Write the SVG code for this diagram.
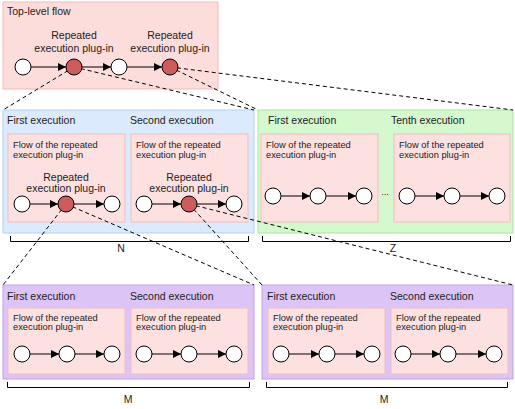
<svg xmlns="http://www.w3.org/2000/svg" width="515" height="409" viewBox="0 0 515 409">
<defs>
<marker id="ah" viewBox="0 0 10 10" refX="10" refY="5" markerWidth="8" markerHeight="8" markerUnits="userSpaceOnUse" orient="auto">
<path d="M0,0 L10,5 L0,10 z" fill="#000"/>
</marker>
<style>
text{font-family:"Liberation Sans",Arial,sans-serif;fill:#222}
.h{font-size:10.5px}
.s{font-size:9.3px}
.c{text-anchor:middle}
.top{fill:#fddcdc;stroke:#f7b9b9;stroke-width:1}
.blue{fill:#dbeafc;stroke:#b3d1f3;stroke-width:1}
.green{fill:#d5f8cf;stroke:#a8e69c;stroke-width:1}
.purple{fill:#dcc4f6;stroke:#c49fea;stroke-width:1}
.inner{fill:#fde0e0;stroke:#f6bcbc;stroke-width:1}
.w{fill:#fff;stroke:#000;stroke-width:1}
.r{fill:#cd5c5c;stroke:#000;stroke-width:1}
.a{stroke:#000;stroke-width:1;fill:none;marker-end:url(#ah)}
.d{stroke:#000;stroke-width:1;stroke-dasharray:4 3;fill:none}
.b{stroke:#000;stroke-width:1;fill:none}
</style>
</defs>
<rect width="515" height="409" fill="#fff"/>

<g id="top-level">
<rect class="top" x="3" y="2" width="215" height="87"/>
<text class="h" x="7" y="15">Top-level flow</text>
<text class="h c" x="74" y="39">Repeated</text>
<text class="h c" x="74" y="52">execution plug-in</text>
<text class="h c" x="170" y="39">Repeated</text>
<text class="h c" x="170" y="52">execution plug-in</text>
</g>

<g id="N-box">
<rect class="blue" x="3" y="110" width="251" height="123"/>
<text class="h" x="7" y="124">First execution</text>
<text class="h" x="130" y="124">Second execution</text>
<rect class="inner" x="8" y="134" width="117" height="88"/>
<rect class="inner" x="131" y="134" width="117" height="88"/>
<text class="s" x="13" y="148">Flow of the repeated</text>
<text class="s" x="13" y="158">execution plug-in</text>
<text class="s" x="136" y="148">Flow of the repeated</text>
<text class="s" x="136" y="158">execution plug-in</text>
<text class="h c" x="66" y="181">Repeated</text>
<text class="h c" x="66" y="192">execution plug-in</text>
<text class="h c" x="189" y="181">Repeated</text>
<text class="h c" x="189" y="192">execution plug-in</text>
</g>

<g id="Z-box">
<rect class="green" x="258" y="110" width="255" height="123"/>
<text class="h" x="268" y="124">First execution</text>
<text class="h" x="391" y="124">Tenth execution</text>
<rect class="inner" x="261" y="134" width="117" height="88"/>
<rect class="inner" x="394" y="134" width="116" height="88"/>
<text class="s" x="266" y="148">Flow of the repeated</text>
<text class="s" x="266" y="158">execution plug-in</text>
<text class="s" x="399" y="148">Flow of the repeated</text>
<text class="s" x="399" y="158">execution plug-in</text>
<text class="s c" x="385" y="195">...</text>
</g>

<g id="M-box-1">
<rect class="purple" x="3" y="285" width="251" height="94"/>
<text class="h" x="7" y="300">First execution</text>
<text class="h" x="130" y="300">Second execution</text>
<rect class="inner" x="8" y="308" width="117" height="66"/>
<rect class="inner" x="131" y="308" width="117" height="66"/>
<text class="s" x="13" y="321">Flow of the repeated</text>
<text class="s" x="13" y="330">execution plug-in</text>
<text class="s" x="136" y="321">Flow of the repeated</text>
<text class="s" x="136" y="330">execution plug-in</text>
</g>

<g id="M-box-2">
<rect class="purple" x="262" y="285" width="251" height="94"/>
<text class="h" x="267" y="300">First execution</text>
<text class="h" x="390" y="300">Second execution</text>
<rect class="inner" x="268" y="308" width="117" height="66"/>
<rect class="inner" x="391" y="308" width="117" height="66"/>
<text class="s" x="273" y="321">Flow of the repeated</text>
<text class="s" x="273" y="330">execution plug-in</text>
<text class="s" x="396" y="321">Flow of the repeated</text>
<text class="s" x="396" y="330">execution plug-in</text>
</g>

<g id="brackets">
<path class="b" d="M10.5,236 V241.5 H248.5 V236"/>
<text class="h c" x="121" y="252">N</text>
<path class="b" d="M262.5,236 V241.5 H510.5 V236"/>
<text class="h c" x="393" y="252">Z</text>
<path class="b" d="M7.5,382 V387.5 H249.5 V382"/>
<text class="h c" x="128" y="403">M</text>
<path class="b" d="M266.5,382 V387.5 H507.5 V382"/>
<text class="h c" x="384" y="403">M</text>
</g>

<g id="connectors">
<line class="d" x1="74" y1="67" x2="3" y2="110"/>
<line class="d" x1="74" y1="67" x2="254" y2="110"/>
<line class="d" x1="170" y1="67" x2="258" y2="110"/>
<line class="d" x1="170" y1="67" x2="513" y2="110"/>
<line class="d" x1="66" y1="204" x2="3" y2="285"/>
<line class="d" x1="66" y1="204" x2="254" y2="285"/>
<line class="d" x1="189" y1="204" x2="262" y2="285"/>
<line class="d" x1="189" y1="204" x2="513" y2="285"/>

<line class="a" x1="31" y1="67" x2="66" y2="67"/>
<line class="a" x1="82" y1="67" x2="111" y2="67"/>
<line class="a" x1="127" y1="67" x2="162" y2="67"/>

<line class="a" x1="30" y1="204" x2="58" y2="204"/>
<line class="a" x1="74" y1="204" x2="104" y2="204"/>
<line class="a" x1="152" y1="204" x2="181" y2="204"/>
<line class="a" x1="197" y1="204" x2="226" y2="204"/>

<line class="a" x1="281" y1="196" x2="310" y2="196"/>
<line class="a" x1="326" y1="196" x2="356" y2="196"/>
<line class="a" x1="415" y1="196" x2="444" y2="196"/>
<line class="a" x1="460" y1="196" x2="489" y2="196"/>

<line class="a" x1="30" y1="354" x2="59" y2="354"/>
<line class="a" x1="75" y1="354" x2="104" y2="354"/>
<line class="a" x1="152" y1="354" x2="181" y2="354"/>
<line class="a" x1="197" y1="354" x2="226" y2="354"/>

<line class="a" x1="289" y1="354" x2="319" y2="354"/>
<line class="a" x1="335" y1="354" x2="364" y2="354"/>
<line class="a" x1="411" y1="354" x2="440" y2="354"/>
<line class="a" x1="456" y1="354" x2="486" y2="354"/>
</g>

<g id="nodes">
<circle class="w" cx="23" cy="67" r="8"/>
<circle class="r" cx="74" cy="67" r="8"/>
<circle class="w" cx="119" cy="67" r="8"/>
<circle class="r" cx="170" cy="67" r="8"/>

<circle class="w" cx="22" cy="204" r="8"/>
<circle class="r" cx="66" cy="204" r="8"/>
<circle class="w" cx="112" cy="204" r="8"/>
<circle class="w" cx="144" cy="204" r="8"/>
<circle class="r" cx="189" cy="204" r="8"/>
<circle class="w" cx="234" cy="204" r="8"/>

<circle class="w" cx="273" cy="196" r="8"/>
<circle class="w" cx="318" cy="196" r="8"/>
<circle class="w" cx="364" cy="196" r="8"/>
<circle class="w" cx="407" cy="196" r="8"/>
<circle class="w" cx="452" cy="196" r="8"/>
<circle class="w" cx="497" cy="196" r="8"/>

<circle class="w" cx="22" cy="354" r="8"/>
<circle class="w" cx="67" cy="354" r="8"/>
<circle class="w" cx="112" cy="354" r="8"/>
<circle class="w" cx="144" cy="354" r="8"/>
<circle class="w" cx="189" cy="354" r="8"/>
<circle class="w" cx="234" cy="354" r="8"/>

<circle class="w" cx="281" cy="354" r="8"/>
<circle class="w" cx="327" cy="354" r="8"/>
<circle class="w" cx="372" cy="354" r="8"/>
<circle class="w" cx="403" cy="354" r="8"/>
<circle class="w" cx="448" cy="354" r="8"/>
<circle class="w" cx="494" cy="354" r="8"/>
</g>
</svg>
